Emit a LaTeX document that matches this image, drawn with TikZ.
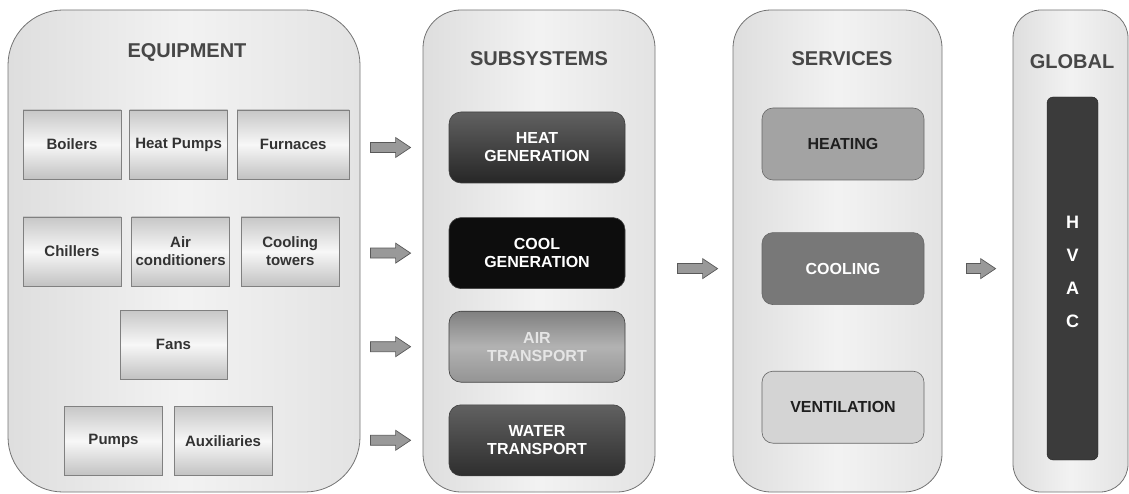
\documentclass[tikz,border=0pt]{standalone}
\usepackage{fontspec}
\setmainfont{Liberation Sans}
\usetikzlibrary{positioning,calc}
\tikzset{panel/.style={draw=black!55,line width=0.8pt,rounded corners=#1,left color=black!13,right color=black!11,middle color=black!5,minimum height=482pt},
	 ptitle/.style={text=black!72,font=\fontsize{20}{24}\selectfont\bfseries},
	 eqbox/.style={draw=black!50,line width=0.6pt,top color=black!22,bottom color=black!24,middle color=black!3,minimum width=98pt,minimum height=69pt,inner sep=2pt,align=center,text=black!80,font=\fontsize{15}{18}\selectfont\bfseries},
	 subbox/.style={draw=black!75,line width=0.6pt,rounded corners=12pt,minimum width=176pt,minimum height=71pt,align=center,text=white,font=\fontsize{16}{18}\selectfont\bfseries},
	 servbox/.style={draw=black!60,line width=0.6pt,rounded corners=11pt,minimum width=162pt,minimum height=72pt,align=center,font=\fontsize{16}{18}\selectfont\bfseries},
	 blockarr/.style 2 args={draw=black!65,fill=black!40,line width=0.7pt,to path={let \p1=(\tikztostart), \p2=(\tikztotarget) in
		(\x1+#1,\y1+5pt) -- (\x2-#2-15pt,\y1+5pt) -- (\x2-#2-15pt,\y1+10pt) -- (\x2-#2,\y1) -- (\x2-#2-15pt,\y1-10pt) -- (\x2-#2-15pt,\y1-5pt) -- (\x1+#1,\y1-5pt) -- cycle}}
	 }

\begin{document}
\begin{tikzpicture}[x=1pt,y=1pt] % equipment -> subsystems -> services -> global
	\useasboundingbox (0,0) rectangle (1129,493);
	\node[panel=55pt,minimum width=352pt] (equip) at (184,242) {};
	\node[panel=38pt,minimum width=232pt] (subs) at (539,242) {};
	\node[panel=38pt,minimum width=209pt] (serv) at (837.5,242) {};
	\node[panel=28pt,minimum width=115pt] (glob) at (1070.5,242) {};
	\node[ptitle] (eqtitle) at (187,441) {EQUIPMENT};
	\node[ptitle] (subtitle) at (539,434) {SUBSYSTEMS};
	\node[ptitle] (servtitle) at (842,434) {SERVICES};
	\node[ptitle] (globtitle) at (1072,431) {GLOBAL};
	% equipment
	\node[eqbox] (boilers) at (72,348.5) {Boilers};
	\node[eqbox] (hpumps) [right=8pt of boilers] {Heat Pumps};
	\node[eqbox,minimum width=112pt] (furnaces) [right=9pt of hpumps] {Furnaces};
	\node[eqbox] (chillers) at (72,241.5) {Chillers};
	\node[eqbox] (aircond) [right=10pt of chillers] {Air\\conditioners};
	\node[eqbox] (ctowers) [right=11pt of aircond] {Cooling\\towers};
	\node[eqbox,minimum width=107pt] (fans) at (173.5,148.5) {Fans};
	\node[eqbox] (pumps) at (113.5,52) {Pumps};
	\node[eqbox] (aux) [right=11pt of pumps] {Auxiliaries};
	% subsystems
	\node[subbox,top color=black!62,bottom color=black!85] (heat) at (537,345.5) {HEAT\\GENERATION};
	\node[subbox,fill=black!95] (cool) [below=34pt of heat] {COOL\\GENERATION};
	\node[subbox,top color=black!50,bottom color=black!42,middle color=black!30,text=black!10] (air) [below=22pt of cool] {AIR\\TRANSPORT};
	\node[subbox,top color=black!62,bottom color=black!82] (water) [below=22pt of air] {WATER\\TRANSPORT};
	% services
	\node[servbox,fill=black!36,text=black!88] (heating) at (843,349) {HEATING};
	\node[servbox,fill=black!53,text=white] (cooling) [below=52pt of heating] {COOLING};
	\node[servbox,fill=black!17,text=black!88] (vent) [below=66pt of cooling] {VENTILATION};
	% global
	\node[draw=black!85,fill=black!77,rounded corners=6pt,minimum width=51pt,minimum height=363pt,align=center,text=white,font=\fontsize{18}{33}\selectfont\bfseries] (hvac) at (1072.5,214.5) {H\\V\\A\\C\\[-19pt]\mbox{}};
	\draw[blockarr={10pt}{12pt}] (equip.east |- heat) to (subs.west |- heat);
	\draw[blockarr={10pt}{12pt},yshift=4.5pt] (equip.east |- cool) to (subs.west |- cool);
	\draw[blockarr={10pt}{12pt},yshift=-2.5pt] (equip.east |- air) to (subs.west |- air);
	\draw[blockarr={10pt}{12pt},yshift=8.5pt] (equip.east |- water) to (subs.west |- water);
	\draw[blockarr={22pt}{15pt},yshift=6pt] (subs.east |- cooling) to (serv.west |- cooling);
	\draw[blockarr={24pt}{17pt},yshift=6pt] (serv.east |- cooling) to (glob.west |- cooling);
\end{tikzpicture}
\end{document}
